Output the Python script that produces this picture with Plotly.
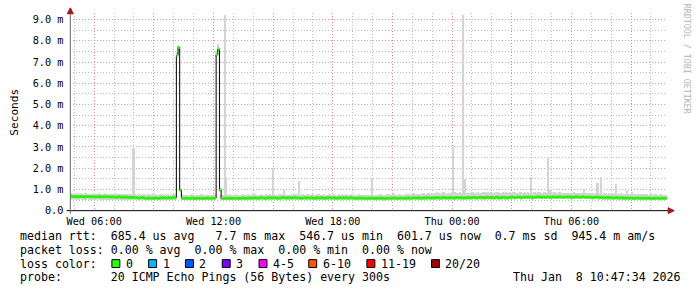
import plotly.graph_objects as go
import pandas as pd
import numpy as np

W, H = 697, 297

# ---------------- data (milliseconds) ----------------
start_time = "2026-01-07 04:48"
end_time = "2026-01-08 10:48"

median_ms = [
    0.68, 0.67, 0.66, 0.67, 0.65, 0.66, 0.67, 0.66, 0.65, 0.66, 0.67, 0.66,
    0.66, 0.65, 0.66, 0.64, 0.65, 0.66, 0.65, 0.64, 0.65, 0.66, 0.65, 0.64,
    0.64, 0.65, 0.64, 0.63, 0.64, 0.65, 0.63, 0.64, 0.63, 0.64, 0.63, 0.62,
    0.62, 0.63, 0.61, 0.62, 0.61, 0.60, 0.61, 0.62, 0.60, 0.59, 0.58, 0.59,
    0.58, 0.59, 0.58, 0.60, 0.59, 0.58, 0.60, 0.61, 0.60, 0.61, 0.60, 0.61,
    0.60, 0.61, 0.62, 0.61, 7.31, 7.69, 0.97, 0.59, 0.58, 0.59, 0.58, 0.57,
    0.58, 0.59, 0.58, 0.57, 0.58, 0.59, 0.58, 0.58, 0.57, 0.58, 0.59, 0.58,
    0.58, 0.59, 0.58, 0.60, 7.34, 7.61, 0.98, 0.58, 0.57, 0.58, 0.59, 0.58,
    0.58, 0.57, 0.58, 0.59, 0.58, 0.57, 0.58, 0.59, 0.60, 0.59, 0.58, 0.59,
    0.60, 0.59, 0.60, 0.61, 0.60, 0.59, 0.60, 0.61, 0.60, 0.59, 0.60, 0.61,
    0.60, 0.61, 0.60, 0.61, 0.60, 0.59, 0.60, 0.61, 0.62, 0.61, 0.60, 0.61,
    0.61, 0.60, 0.61, 0.62, 0.60, 0.61, 0.60, 0.59, 0.60, 0.61, 0.60, 0.61,
    0.60, 0.61, 0.60, 0.59, 0.60, 0.61, 0.60, 0.61, 0.60, 0.59, 0.60, 0.61,
    0.61, 0.60, 0.61, 0.60, 0.59, 0.60, 0.61, 0.60, 0.61, 0.60, 0.61, 0.60,
    0.60, 0.61, 0.60, 0.59, 0.58, 0.59, 0.60, 0.59, 0.58, 0.59, 0.58, 0.59,
    0.58, 0.59, 0.58, 0.57, 0.58, 0.59, 0.58, 0.59, 0.58, 0.57, 0.58, 0.59,
    0.59, 0.58, 0.59, 0.60, 0.59, 0.58, 0.59, 0.60, 0.59, 0.58, 0.59, 0.60,
    0.60, 0.59, 0.60, 0.61, 0.60, 0.61, 0.60, 0.59, 0.60, 0.61, 0.60, 0.61,
    0.61, 0.60, 0.61, 0.60, 0.61, 0.62, 0.61, 0.60, 0.61, 0.62, 0.61, 0.60,
    0.61, 0.62, 0.61, 0.60, 0.61, 0.62, 0.61, 0.62, 0.61, 0.60, 0.61, 0.62,
    0.62, 0.61, 0.62, 0.63, 0.62, 0.61, 0.62, 0.63, 0.62, 0.61, 0.62, 0.63,
    0.62, 0.63, 0.62, 0.61, 0.62, 0.63, 0.62, 0.61, 0.62, 0.63, 0.62, 0.61,
    0.62, 0.63, 0.64, 0.63, 0.62, 0.63, 0.64, 0.63, 0.62, 0.63, 0.64, 0.63,
    0.63, 0.64, 0.63, 0.62, 0.63, 0.64, 0.65, 0.64, 0.63, 0.64, 0.63, 0.64,
    0.64, 0.63, 0.64, 0.65, 0.64, 0.63, 0.64, 0.65, 0.64, 0.63, 0.64, 0.65,
    0.64, 0.65, 0.64, 0.63, 0.64, 0.65, 0.64, 0.63, 0.64, 0.65, 0.64, 0.63,
    0.63, 0.64, 0.63, 0.62, 0.63, 0.64, 0.63, 0.62, 0.63, 0.62, 0.61, 0.62,
    0.61, 0.62, 0.61, 0.60, 0.61, 0.62, 0.61, 0.60, 0.61, 0.60, 0.59, 0.60,
    0.60, 0.59, 0.60, 0.59, 0.58, 0.59, 0.60, 0.59, 0.58, 0.59, 0.58, 0.59,
    0.58, 0.59, 0.58, 0.57, 0.58, 0.59, 0.58, 0.57, 0.58, 0.59, 0.58, 0.58,
]

smoke_hi_ms = [
    0.82, 0.80, 0.84, 0.78, 0.81, 0.79, 0.83, 0.80, 0.78, 0.82, 0.80, 0.79,
    0.80, 0.78, 0.82, 0.79, 0.77, 0.81, 0.80, 0.78, 0.79, 0.82, 0.78, 0.77,
    0.78, 0.80, 0.77, 0.79, 0.76, 0.78, 0.80, 0.77, 0.76, 0.79, 0.78, 0.76,
    0.76, 0.78, 2.95, 0.77, 0.75, 0.78, 0.76, 0.74, 0.77, 0.75, 0.73, 0.76,
    0.74, 0.76, 0.73, 0.77, 0.75, 0.72, 0.76, 0.78, 0.75, 0.77, 0.74, 0.76,
    0.75, 0.77, 0.76, 0.78, 7.45, 7.80, 1.05, 0.76, 0.74, 0.73, 0.75, 0.72,
    0.74, 0.76, 0.73, 0.72, 0.75, 0.74, 0.73, 0.76, 0.72, 0.74, 0.75, 0.73,
    0.74, 0.75, 0.73, 0.76, 7.50, 7.85, 1.05, 0.74, 0.73, 9.22, 1.48, 0.75,
    0.76, 0.74, 0.75, 0.73, 0.77, 0.74, 0.72, 0.75, 0.78, 0.74, 0.73, 0.76,
    0.75, 0.73, 0.76, 0.78, 0.74, 0.72, 0.75, 0.77, 0.74, 0.73, 0.76, 0.75,
    0.76, 0.74, 2.02, 0.77, 0.75, 0.73, 0.76, 0.76, 0.74, 0.95, 0.75, 0.74,
    0.75, 0.77, 0.74, 0.76, 0.78, 0.75, 1.40, 0.74, 0.76, 0.75, 0.73, 0.77,
    0.76, 0.74, 0.77, 0.75, 0.73, 0.76, 0.78, 0.75, 0.74, 0.77, 0.75, 0.74,
    0.77, 0.75, 0.74, 0.76, 0.73, 0.75, 0.77, 0.74, 0.76, 0.75, 0.78, 0.74,
    0.75, 0.77, 0.74, 0.73, 0.72, 0.74, 0.76, 0.73, 0.72, 0.74, 0.73, 0.75,
    0.73, 0.74, 1.50, 0.72, 0.74, 0.75, 0.73, 0.76, 0.74, 0.72, 0.75, 0.76,
    0.77, 0.74, 0.76, 0.78, 0.75, 0.73, 0.76, 0.79, 0.75, 0.74, 0.77, 0.78,
    0.78, 0.76, 0.79, 0.81, 0.77, 0.80, 0.78, 0.76, 0.79, 0.82, 0.78, 0.80,
    0.81, 0.79, 0.82, 0.80, 0.84, 0.86, 0.81, 0.79, 0.83, 0.86, 0.82, 0.80,
    0.82, 0.85, 0.88, 3.00, 0.90, 0.84, 0.83, 0.86, 0.82, 9.22, 1.47, 0.85,
    0.84, 0.82, 0.86, 0.88, 0.83, 0.85, 0.87, 0.84, 0.82, 0.86, 0.88, 0.85,
    0.86, 0.84, 0.87, 0.85, 0.83, 0.86, 0.88, 0.84, 0.85, 0.87, 0.84, 0.86,
    0.85, 0.87, 0.84, 0.86, 0.88, 0.85, 0.84, 0.87, 0.86, 0.84, 0.88, 0.85,
    0.86, 0.84, 1.57, 0.85, 0.87, 0.84, 0.86, 0.88, 0.85, 0.84, 0.87, 0.85,
    2.54, 1.00, 0.86, 0.84, 0.87, 0.85, 0.83, 0.86, 0.84, 0.85, 0.82, 0.84,
    0.83, 0.85, 0.82, 0.84, 0.86, 0.83, 0.81, 0.84, 0.82, 0.83, 1.02, 0.84,
    0.82, 0.84, 0.81, 0.83, 0.80, 0.82, 1.30, 0.81, 1.57, 0.80, 0.82, 0.81,
    0.80, 0.82, 0.79, 0.81, 0.78, 1.24, 0.80, 0.79, 0.81, 0.78, 0.80, 0.79,
    0.92, 0.78, 0.80, 0.88, 0.77, 0.79, 0.78, 0.76, 0.78, 0.77, 0.79, 0.76,
    0.77, 0.75, 0.78, 0.76, 0.74, 0.77, 0.75, 0.74, 0.76, 0.75, 0.73, 0.74,
]

smoke_lo_ms = [
    0.52, 0.51, 0.53, 0.52, 0.50, 0.52, 0.53, 0.51, 0.52, 0.50, 0.53, 0.52,
    0.51, 0.52, 0.50, 0.51, 0.53, 0.52, 0.50, 0.51, 0.52, 0.50, 0.51, 0.52,
    0.51, 0.50, 0.52, 0.51, 0.50, 0.52, 0.51, 0.50, 0.51, 0.50, 0.52, 0.50,
    0.50, 0.51, 0.49, 0.50, 0.51, 0.49, 0.50, 0.51, 0.49, 0.48, 0.49, 0.50,
    0.49, 0.48, 0.50, 0.49, 0.48, 0.50, 0.49, 0.51, 0.50, 0.49, 0.50, 0.51,
    0.50, 0.51, 0.50, 0.52, 7.22, 7.55, 0.88, 0.50, 0.49, 0.48, 0.50, 0.49,
    0.49, 0.50, 0.48, 0.49, 0.50, 0.48, 0.49, 0.50, 0.48, 0.49, 0.50, 0.49,
    0.49, 0.50, 0.48, 0.51, 7.25, 7.50, 0.90, 0.49, 0.48, 0.50, 0.49, 0.48,
    0.49, 0.48, 0.50, 0.49, 0.48, 0.49, 0.50, 0.49, 0.51, 0.50, 0.49, 0.50,
    0.50, 0.49, 0.51, 0.50, 0.49, 0.50, 0.51, 0.50, 0.49, 0.50, 0.51, 0.50,
    0.51, 0.50, 0.49, 0.51, 0.50, 0.49, 0.51, 0.50, 0.52, 0.51, 0.50, 0.51,
    0.50, 0.51, 0.50, 0.52, 0.50, 0.51, 0.50, 0.49, 0.50, 0.51, 0.50, 0.51,
    0.51, 0.50, 0.51, 0.49, 0.50, 0.51, 0.50, 0.51, 0.50, 0.49, 0.51, 0.50,
    0.50, 0.51, 0.50, 0.51, 0.49, 0.50, 0.51, 0.50, 0.51, 0.50, 0.51, 0.50,
    0.50, 0.51, 0.49, 0.50, 0.48, 0.49, 0.50, 0.49, 0.48, 0.49, 0.48, 0.49,
    0.48, 0.49, 0.48, 0.47, 0.48, 0.49, 0.48, 0.49, 0.48, 0.47, 0.48, 0.49,
    0.49, 0.48, 0.49, 0.50, 0.49, 0.48, 0.49, 0.50, 0.49, 0.48, 0.49, 0.50,
    0.50, 0.49, 0.50, 0.51, 0.50, 0.51, 0.50, 0.49, 0.50, 0.51, 0.50, 0.51,
    0.51, 0.50, 0.51, 0.50, 0.51, 0.52, 0.51, 0.50, 0.51, 0.52, 0.51, 0.50,
    0.51, 0.52, 0.51, 0.50, 0.51, 0.52, 0.51, 0.52, 0.51, 0.50, 0.51, 0.52,
    0.52, 0.51, 0.52, 0.53, 0.52, 0.51, 0.52, 0.53, 0.52, 0.51, 0.52, 0.53,
    0.52, 0.53, 0.52, 0.51, 0.52, 0.53, 0.52, 0.51, 0.52, 0.53, 0.52, 0.51,
    0.52, 0.53, 0.54, 0.53, 0.52, 0.53, 0.54, 0.53, 0.52, 0.53, 0.54, 0.53,
    0.53, 0.54, 0.53, 0.52, 0.53, 0.54, 0.55, 0.54, 0.53, 0.54, 0.53, 0.54,
    0.54, 0.53, 0.54, 0.55, 0.54, 0.53, 0.54, 0.55, 0.54, 0.53, 0.54, 0.55,
    0.54, 0.55, 0.54, 0.53, 0.54, 0.55, 0.54, 0.53, 0.54, 0.55, 0.54, 0.53,
    0.53, 0.54, 0.53, 0.52, 0.53, 0.54, 0.53, 0.52, 0.53, 0.52, 0.51, 0.52,
    0.51, 0.52, 0.51, 0.50, 0.51, 0.52, 0.51, 0.50, 0.51, 0.50, 0.49, 0.50,
    0.50, 0.49, 0.50, 0.49, 0.48, 0.49, 0.50, 0.49, 0.48, 0.49, 0.48, 0.49,
    0.48, 0.49, 0.48, 0.47, 0.48, 0.49, 0.48, 0.47, 0.48, 0.49, 0.48, 0.48,
]

x_tick_times = ["2026-01-07 06:00", "2026-01-07 12:00", "2026-01-07 18:00",
                "2026-01-08 00:00", "2026-01-08 06:00"]
x_tick_labels = ["Wed 06:00", "Wed 12:00", "Wed 18:00", "Thu 00:00", "Thu 06:00"]
y_tick_values = [0, 1, 2, 3, 4, 5, 6, 7, 8, 9]
y_tick_labels = ["0.0", "1.0 m", "2.0 m", "3.0 m", "4.0 m", "5.0 m",
                 "6.0 m", "7.0 m", "8.0 m", "9.0 m"]

loss_labels = ["0", "1", "2", "3", "4-5", "6-10", "11-19", "20/20"]
loss_colors = ["#26ff00", "#00b8ff", "#0059ff", "#7e00ff", "#ff00ff",
               "#ff5500", "#ff0000", "#a10000"]

legend_lines = [
    "median rtt:  685.4 us avg   7.7 ms max  546.7 us min  601.7 us now  0.7 ms sd  945.4 m am/s",
    "packet loss: 0.00 % avg  0.00 % max  0.00 % min  0.00 % now",
    "loss color:",
    "probe:       20 ICMP Echo Pings (56 Bytes) every 300s",
]
timestamp_text = "Thu Jan  8 10:47:34 2026"
watermark_text = "RRDTOOL / TOBI OETIKER"
y_title = "Seconds"

# ---------------- geometry helpers ----------------
PL, PR, PB, PT = 66.7, 666.7, 215.0, 13.3   # plot area in pixels


def px(xp):
    return xp / W


def py(yp):
    return 1 - yp / H


step = pd.Timedelta(minutes=5)
times = pd.date_range(start_time, periods=len(median_ms), freq="5min")
med = np.array(median_ms)
hi = np.array(smoke_hi_ms)
lo = np.array(smoke_lo_ms)

fig = go.Figure()

# smoke
fig.add_trace(go.Bar(
    x=times + step / 2, y=hi - lo, base=lo,
    width=step.total_seconds() * 1000,
    marker=dict(color="#d4d4d4", line=dict(width=0)),
    hoverinfo="skip", showlegend=False,
))

# median black step line
fig.add_trace(go.Scatter(
    x=list(times) + [times[-1] + step], y=list(med) + [med[-1]],
    mode="lines", line=dict(color="#000000", width=1, shape="hv"),
    hoverinfo="skip", showlegend=False,
))

# median green segments (loss colour 0)
gx, gy = [], []
for t, v in zip(times, med):
    gx += [t, t + step, None]
    gy += [v, v, None]
fig.add_trace(go.Scatter(
    x=gx, y=gy, mode="lines", line=dict(color=loss_colors[0], width=3),
    hoverinfo="skip", showlegend=False,
))

major_x = pd.date_range("2026-01-07 06:00", "2026-01-08 09:00", freq="3h")
major_x_text = []
for t in major_x:
    s = t.strftime("%Y-%m-%d %H:%M")
    major_x_text.append(x_tick_labels[x_tick_times.index(s)] if s in x_tick_times else "")
minor_x = pd.date_range("2026-01-07 05:00", "2026-01-08 10:00", freq="1h")

RED_GRID = "rgba(235,120,120,0.75)"
GRAY_GRID = "rgba(170,170,170,0.8)"
DASH = "1px,2px"
AXFONT = dict(family="DejaVu Sans Mono", size=10.2, color="#000000")

fig.update_layout(
    width=W, height=H, autosize=False,
    margin=dict(l=0, r=0, t=0, b=0, pad=0),
    paper_bgcolor="#ffffff", plot_bgcolor="#ffffff",
    bargap=0, barmode="overlay",
    showlegend=False,
    xaxis=dict(
        type="date", domain=[px(PL), px(PR)],
        range=[start_time, end_time],
        tickmode="array", tickvals=list(major_x), ticktext=major_x_text,
        showgrid=True, gridcolor=RED_GRID, griddash=DASH, gridwidth=1,
        minor=dict(tickmode="array", tickvals=list(minor_x), showgrid=True,
                   gridcolor=GRAY_GRID, griddash=DASH, gridwidth=1),
        showline=False, zeroline=False, ticks="", tickfont=AXFONT,
        ticklabelstandoff=3, fixedrange=True,
    ),
    yaxis=dict(
        domain=[py(PB), py(PT)],
        range=[0, (PB - PT) / 21.667],
        tickmode="array", tickvals=y_tick_values, ticktext=y_tick_labels,
        showgrid=True, gridcolor=RED_GRID, griddash=DASH, gridwidth=1,
        minor=dict(tickmode="array", tickvals=list(np.arange(0.5, 9.5, 1.0)),
                   showgrid=True, gridcolor=GRAY_GRID, griddash=DASH, gridwidth=1),
        showline=False, zeroline=False, ticks="", tickfont=AXFONT,
        ticklabelstandoff=6, fixedrange=True,
    ),
)

shapes = []
# axes lines
shapes.append(dict(type="line", xref="paper", yref="paper",
                   x0=px(63), x1=px(669), y0=py(PB), y1=py(PB),
                   line=dict(color="#000000", width=1)))
shapes.append(dict(type="line", xref="paper", yref="paper",
                   x0=px(PL), x1=px(PL), y0=py(218), y1=py(12),
                   line=dict(color="#666666", width=1)))
# arrows
shapes.append(dict(type="path", xref="paper", yref="paper",
                   path=f"M {px(668)} {py(PB-3)} L {px(674)} {py(PB)} L {px(668)} {py(PB+3)} Z",
                   fillcolor="#a01818", line=dict(color="#a01818", width=1)))
shapes.append(dict(type="path", xref="paper", yref="paper",
                   path=f"M {px(PL-3)} {py(14)} L {px(PL)} {py(8)} L {px(PL+3)} {py(14)} Z",
                   fillcolor="#a01818", line=dict(color="#a01818", width=1)))

LFONT = dict(family="DejaVu Sans Mono", size=11.6, color="#000000")
annotations = []
line_y = [241, 255, 269, 283]
for txt, yy in zip(legend_lines, line_y):
    annotations.append(dict(text=txt.replace(" ", "\u00a0"), x=px(16), y=py(yy),
                            xref="paper", yref="paper", xanchor="left", yanchor="middle",
                            showarrow=False, font=LFONT, borderpad=0, borderwidth=0))
annotations.append(dict(text=timestamp_text.replace(" ", "\u00a0"), x=px(681), y=py(283),
                        xref="paper", yref="paper", xanchor="right", yanchor="middle",
                        showarrow=False, font=LFONT, borderpad=0, borderwidth=0))

box_x = [108.5, 145.5, 182.5, 219.5, 256.5, 306.5, 365.0, 430.0]
for bx, lab, col in zip(box_x, loss_labels, loss_colors):
    shapes.append(dict(type="rect", xref="paper", yref="paper",
                       x0=px(bx), x1=px(bx + 8), y0=py(273), y1=py(265),
                       fillcolor=col, line=dict(color="#000000", width=1)))
    annotations.append(dict(text=lab, x=px(bx + 14), y=py(269),
                            xref="paper", yref="paper", xanchor="left", yanchor="middle",
                            showarrow=False, font=LFONT, borderpad=0, borderwidth=0))

annotations.append(dict(text=y_title, x=px(11), y=py(114), xref="paper", yref="paper",
                        textangle=-90, showarrow=False, xanchor="center", yanchor="middle",
                        font=dict(family="DejaVu Sans Mono", size=11.1, color="#000000"),
                        borderpad=0, borderwidth=0))
annotations.append(dict(text=watermark_text.replace(" ", "\u00a0"), x=px(687), y=py(60),
                        xref="paper", yref="paper", textangle=90, showarrow=False,
                        xanchor="center", yanchor="middle",
                        font=dict(family="DejaVu Sans Mono", size=8.3, color="#b4b4b4"),
                        borderpad=0, borderwidth=0))

fig.update_layout(shapes=shapes, annotations=annotations)
fig.write_html("out.html")
